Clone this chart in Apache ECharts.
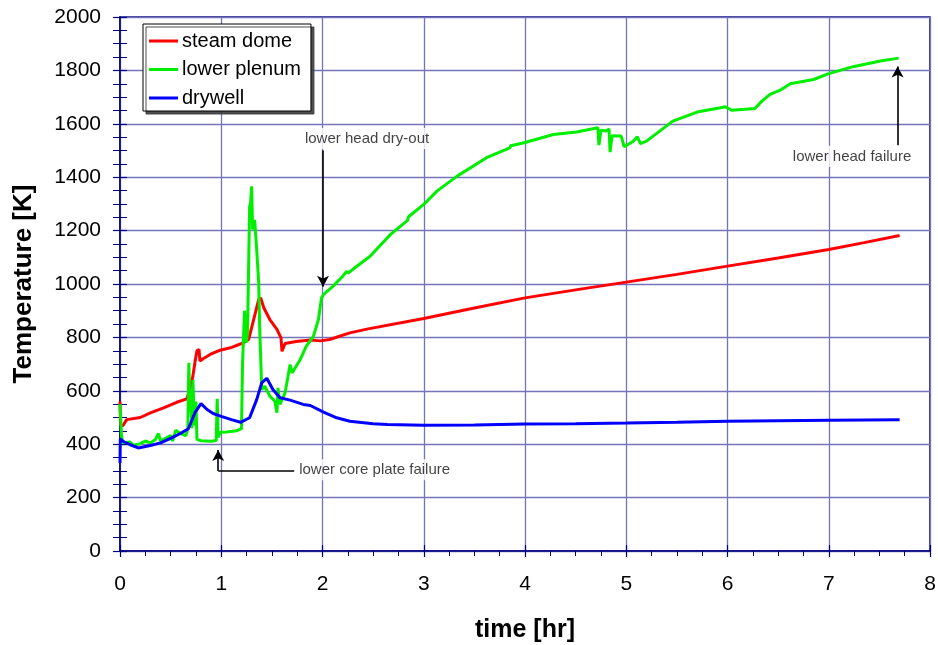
<!DOCTYPE html>
<html>
<head>
<meta charset="utf-8">
<title>Temperature history</title>
<script src="https://cdn.jsdelivr.net/npm/echarts@6/dist/echarts.min.js"></script>
<style>
  html, body { margin: 0; padding: 0; background: #fff; }
  #chart { width: 938px; height: 645px; }
</style>
</head>
<body>
<div id="chart"></div>
<script>
// Temperature histories, [time (hr), temperature (K)]
const steamDome = [
  [0, 560], [0.005, 470], [0.03, 470], [0.066, 492], [0.2, 500], [0.3, 517], [0.43, 536],
  [0.56, 557], [0.66, 570], [0.69, 605], [0.72, 655], [0.74, 706], [0.76, 750], [0.78, 755],
  [0.79, 711], [0.82, 720], [0.89, 736], [0.99, 752], [1.09, 761], [1.22, 780], [1.27, 792],
  [1.32, 867], [1.37, 942], [1.39, 948], [1.42, 911], [1.48, 867], [1.55, 830], [1.59, 798],
  [1.6, 748], [1.63, 777], [1.74, 785], [1.88, 790], [1.98, 787], [2.07, 792], [2.27, 817],
  [2.45, 832], [3.0, 871], [3.5, 910], [4.0, 948], [4.5, 978], [5.0, 1007], [5.5, 1036],
  [6.0, 1067], [6.5, 1097], [7.0, 1129], [7.35, 1155], [7.7, 1182]
];

const lowerPlenum = [
  [0, 550], [0.015, 430], [0.03, 405], [0.1, 408], [0.13, 395], [0.2, 402], [0.25, 412],
  [0.3, 405], [0.35, 418], [0.38, 440], [0.4, 412], [0.45, 422], [0.5, 432], [0.52, 412],
  [0.55, 452], [0.6, 440], [0.65, 432], [0.67, 458], [0.68, 705], [0.69, 520], [0.7, 600],
  [0.71, 460], [0.72, 640], [0.735, 470], [0.75, 560], [0.76, 418], [0.8, 413], [0.9, 411],
  [0.95, 414], [0.96, 570], [0.97, 425], [0.99, 445], [1.05, 446], [1.15, 450], [1.2, 458],
  [1.21, 700], [1.22, 800], [1.23, 900], [1.24, 840], [1.25, 780], [1.26, 830], [1.28, 1290],
  [1.29, 1304], [1.3, 1366], [1.31, 1204], [1.33, 1240], [1.35, 1130], [1.37, 1004],
  [1.38, 830], [1.4, 605], [1.43, 617], [1.48, 580], [1.53, 561], [1.55, 518], [1.56, 611],
  [1.58, 549], [1.63, 592], [1.68, 698], [1.7, 667], [1.78, 717], [1.84, 767], [1.91, 804],
  [1.96, 867], [1.99, 948], [2.01, 961], [2.1, 990], [2.2, 1029], [2.24, 1048], [2.25, 1040],
  [2.3, 1055], [2.47, 1104], [2.67, 1185], [2.84, 1238], [2.85, 1252], [3.0, 1298],
  [3.13, 1348], [3.33, 1404], [3.62, 1473], [3.85, 1510], [3.86, 1518], [3.99, 1529],
  [4.28, 1560], [4.51, 1569], [4.72, 1585], [4.73, 1520], [4.75, 1576], [4.8, 1573],
  [4.83, 1580], [4.84, 1494], [4.86, 1555], [4.95, 1554], [4.98, 1514], [5.07, 1535],
  [5.11, 1551], [5.14, 1526], [5.2, 1535], [5.46, 1610], [5.7, 1644], [5.93, 1660],
  [5.98, 1664], [6.04, 1651], [6.27, 1657], [6.34, 1685], [6.42, 1710], [6.52, 1726],
  [6.62, 1750], [6.85, 1766], [7.0, 1788], [7.24, 1814], [7.51, 1835], [7.69, 1846]
];

const drywell = [
  [0, 330], [0.003, 420], [0.03, 411], [0.1, 398], [0.18, 386], [0.3, 395], [0.4, 405],
  [0.5, 422], [0.6, 441], [0.675, 458], [0.71, 490], [0.74, 518], [0.8, 552], [0.86, 530],
  [0.92, 515], [1.0, 504], [1.1, 492], [1.19, 482], [1.28, 499], [1.35, 567], [1.4, 630],
  [1.45, 647], [1.51, 605], [1.58, 574], [1.68, 565], [1.81, 549], [1.88, 545], [2.01, 520],
  [2.14, 499], [2.27, 486], [2.5, 477], [2.64, 474], [3.0, 471], [3.5, 472], [4.0, 476],
  [4.5, 477], [5.0, 479], [5.5, 482], [6.0, 486], [6.5, 488], [7.0, 490], [7.7, 492]
];

const seriesNames = ['steam dome', 'lower plenum', 'drywell'];
const seriesColors = ['#ff0000', '#00ee00', '#0000ff'];

// Event annotations: line segments [from, to, arrowhead at the end?] and captions
const eventSegments = [
  [[2.005, 1500], [2.005, 990], true],
  [[1.72, 300], [0.97, 300], false],
  [[0.97, 300], [0.97, 378], true],
  [[7.68, 1520], [7.68, 1815], true]
];
const eventLabels = [
  { name: 'lower head dry-out', value: [2.44, 1545], align: 'center' },
  { name: 'lower core plate failure', value: [1.75, 304], align: 'left' },
  { name: 'lower head failure', value: [7.23, 1478], align: 'center' }
];

const xTicks = { min: 0, max: 8, interval: 1 };
const yTicks = { min: 0, max: 2000, interval: 200 };

const FONT = "'Liberation Sans', Arial, Helvetica, sans-serif";
const NAVY = '#000080';
const GRID = '#7474bb';

const chart = echarts.init(document.getElementById('chart'), null, { renderer: 'canvas' });

const lineSeries = [steamDome, lowerPlenum, drywell].map((d, i) => ({
  name: seriesNames[i],
  type: 'line',
  data: d,
  showSymbol: false,
  symbol: 'none',
  smooth: false,
  lineStyle: { color: seriesColors[i], width: 3 },
  itemStyle: { color: seriesColors[i] },
  z: 3 + i,
  animation: false
}));

chart.setOption({
  backgroundColor: '#ffffff',
  animation: false,
  grid: {
    left: 120, right: 8, top: 17, bottom: 94,
    outerBoundsMode: 'none',
    containLabel: false,
    show: true, borderColor: NAVY, borderWidth: 1.5, backgroundColor: '#ffffff'
  },
  legend: {
    data: seriesNames,
    orient: 'vertical',
    left: 143, top: 24,
    icon: 'rect',
    itemWidth: 29, itemHeight: 3,
    itemGap: 8.5,
    padding: [7, 10, 3, 6],
    backgroundColor: '#ffffff',
    borderColor: '#000000', borderWidth: 1,
    shadowColor: 'rgba(60,60,60,0.9)', shadowBlur: 0, shadowOffsetX: 3, shadowOffsetY: 3,
    textStyle: { fontFamily: FONT, fontSize: 20, color: '#000', padding: [0, 0, 0, -1] }
  },
  xAxis: [{
    type: 'value',
    min: xTicks.min, max: xTicks.max, interval: xTicks.interval,
    name: 'time [hr]', nameLocation: 'middle', nameGap: 67,
    nameTextStyle: { fontFamily: FONT, fontSize: 25, fontWeight: 'bold', color: '#000' },
    axisLine: { show: true, onZero: false, lineStyle: { color: NAVY, width: 1.5 } },
    axisTick: { show: true, inside: false, length: 6, lineStyle: { color: NAVY, width: 1.2 } },
    minorTick: { show: true, splitNumber: 4, length: 5, lineStyle: { color: NAVY, width: 1 } },
    axisLabel: { fontFamily: FONT, fontSize: 21, color: '#000', margin: 23, formatter: v => String(v) },
    splitLine: { show: true, lineStyle: { color: GRID, width: 1.3 } }
  }, {
    type: 'value', position: 'bottom',
    min: xTicks.min, max: xTicks.max, interval: xTicks.interval,
    axisLine: { show: false },
    axisTick: { show: true, inside: true, length: 6, lineStyle: { color: NAVY, width: 1.2 } },
    axisLabel: { show: false },
    splitLine: { show: false }
  }],
  yAxis: [{
    type: 'value',
    min: yTicks.min, max: yTicks.max, interval: yTicks.interval,
    name: 'Temperature [K]', nameLocation: 'middle', nameGap: 83,
    nameTextStyle: { fontFamily: FONT, fontSize: 26, fontWeight: 'bold', color: '#000' },
    axisLine: { show: true, onZero: false, lineStyle: { color: NAVY, width: 1.5 } },
    axisTick: { show: true, inside: false, length: 7, lineStyle: { color: NAVY, width: 1.2 } },
    minorTick: { show: true, splitNumber: 4, length: 7, lineStyle: { color: NAVY, width: 1 } },
    axisLabel: { fontFamily: FONT, fontSize: 21, color: '#000', margin: 19, formatter: v => String(v) },
    splitLine: { show: true, lineStyle: { color: GRID, width: 1.3 } }
  }, {
    type: 'value', position: 'left',
    min: yTicks.min, max: yTicks.max, interval: yTicks.interval,
    axisLine: { show: false },
    axisTick: { show: true, inside: true, length: 7, lineStyle: { color: NAVY, width: 1.2 } },
    minorTick: { show: true, splitNumber: 4, length: 7, lineStyle: { color: NAVY, width: 1 } },
    axisLabel: { show: false },
    splitLine: { show: false }
  }],
  series: [
    ...lineSeries,
    {
      name: 'events',
      type: 'line',
      data: [],
      silent: true,
      z: 6,
      markLine: {
        silent: true,
        animation: false,
        symbolSize: [9, 11],
        label: { show: false },
        lineStyle: { color: '#000', width: 1.6, type: 'solid' },
        emphasis: { disabled: true },
        data: eventSegments.map(([from, to, arrow]) => [
          { coord: from, symbol: 'none' },
          { coord: to, symbol: arrow ? 'arrow' : 'none' }
        ])
      }
    },
    {
      name: 'event labels',
      type: 'scatter',
      symbolSize: 0,
      data: eventLabels.map(e => ({
        name: e.name, value: e.value,
        label: { align: e.align }
      })),
      label: {
        show: true,
        position: 'inside',
        formatter: p => p.name,
        fontFamily: FONT, fontSize: 15, color: '#111',
        backgroundColor: '#ffffff',
        padding: [3, 2],
        verticalAlign: 'middle'
      },
      z: 7,
      silent: true
    }
  ]
});
</script>
</body>
</html>
